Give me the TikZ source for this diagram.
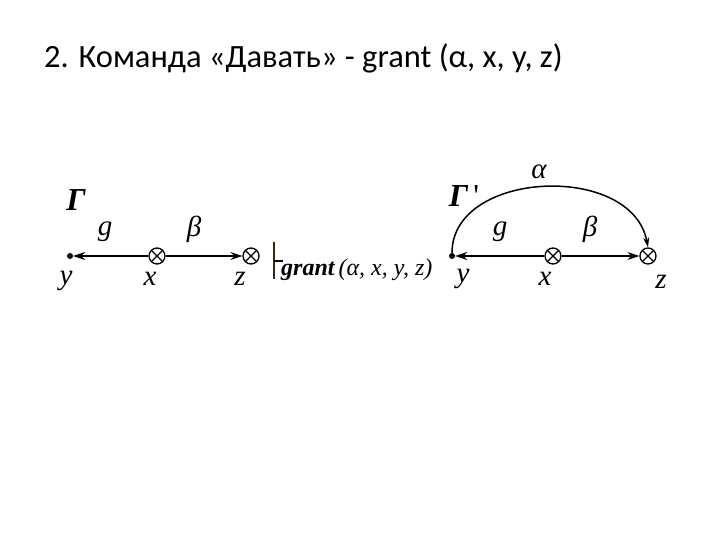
\documentclass[tikz,border=0pt]{standalone}
\usepackage{fontspec}
\setmainfont{Liberation Serif}
\newfontfamily\titlefont{Carlito}
\usetikzlibrary{arrows.meta}
\tikzset{
  dotnode/.style={circle, fill=black, inner sep=0pt, minimum size=6pt},
  crossnode/.style={circle, draw=black, line width=1.3pt, inner sep=0pt, minimum size=16pt,
    path picture={\draw[line width=1.1pt] ([shift={(45:8pt)}]path picture bounding box.center) -- ([shift={(225:8pt)}]path picture bounding box.center);
      \draw[line width=1.1pt] ([shift={(135:8pt)}]path picture bounding box.center) -- ([shift={(315:8pt)}]path picture bounding box.center);}},
  edgeline/.style={line width=1.8pt, -{Stealth[length=12pt,width=8pt]}},
  lbl/.style={font=\fontsize{29}{32}\selectfont\itshape, inner sep=0pt},
  cmdlbl/.style={font=\fontsize{24}{28}\selectfont\itshape, inner sep=0pt},
  glbl/.style={font=\fontsize{32}{36}\selectfont\bfseries\itshape, inner sep=0pt}
}
\begin{document}
\begin{tikzpicture}[x=1pt, y=-1pt]
		\useasboundingbox (0,0) rectangle (720,540);
		\node[anchor=west, inner sep=0pt, font=\titlefont\fontsize{32.5}{36}\selectfont] (title) at (44,58) {2. Команда «Давать» - grant (α, x, y, z)};
		% left graph
		\node[dotnode] (ly) at (70,256) {};
		\node[crossnode] (lx) at (157,256) {};
		\node[crossnode] (lz) at (251,256) {};
		\draw[edgeline] (lx) -- (ly);
		\draw[edgeline] (lx) -- (lz);
		\node[glbl] (lgamma) at (76,200) {Γ};
		\node[lbl] (lg) at (105,232) {g};
		\node[lbl] (lbeta) at (194,229) {β};
		\node[lbl] (lylab) at (66,281) {y};
		\node[lbl] (lxlab) at (150,279) {x};
		\node[lbl] (lzlab) at (240,279) {z};
		% turnstile and command
		\coordinate (tt) at (274,242);
		\coordinate (tb) at (274,279);
		\coordinate (tm) at (274,261);
		\coordinate (tr) at (283,261);
		\draw[line width=2pt, draw=black!70!brown] (tt) -- (tb);
		\draw[line width=2pt] (tm) -- (tr);
		\node[cmdlbl, anchor=west] (cmd) at (281,270) {\textbf{grant}\,(α, x, y, z)};
		% right graph
		\node[dotnode] (ry) at (452,256) {};
		\node[crossnode] (rx) at (553,256) {};
		\node[crossnode] (rz) at (648,256) {};
		\draw[edgeline] (rx) -- (ry);
		\draw[edgeline] (rx) -- (rz);
		\draw[line width=1.5pt, -{Stealth[length=10pt,width=6pt]}] (ry.north) .. controls (452,170) and (632,162) .. (rz.north);
		\node[glbl] (rgamma) at (464,196) {Γ\,{\mdseries\upshape\textquotesingle}};
		\node[lbl] (ralpha) at (539,172) {α};
		\node[lbl] (rg) at (500,232) {g};
		\node[lbl] (rbeta) at (590,229) {β};
		\node[lbl] (rylab) at (463,279) {y};
		\node[lbl] (rxlab) at (545,279) {x};
		\node[lbl] (rzlab) at (661,282) {z};
	\end{tikzpicture}
\end{document}
